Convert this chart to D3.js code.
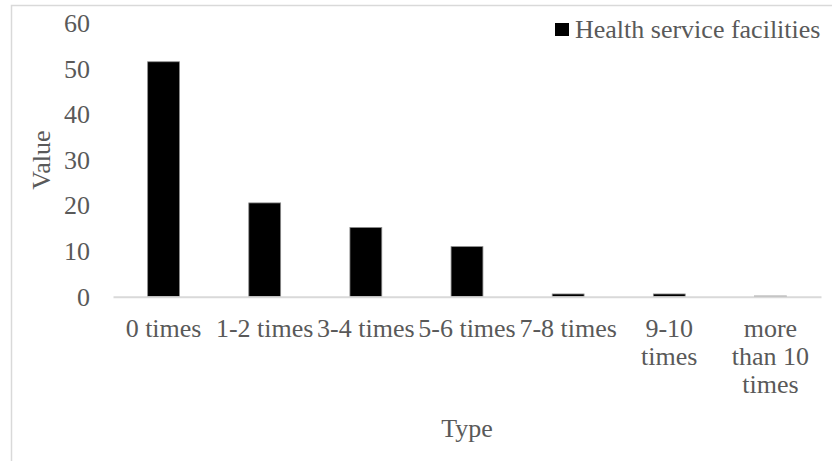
<!DOCTYPE html>
<html>
<head>
<meta charset="utf-8">
<script src="https://cdn.jsdelivr.net/npm/d3@7"></script>
<style>
  html, body { margin: 0; padding: 0; background: #fff; }
  svg { display: block; }
  text { font-family: "Liberation Serif", "Times New Roman", serif; fill: #595959; }
</style>
</head>
<body>
<svg id="chart" width="832" height="461"></svg>
<script>
const categories = ["0 times", "1-2 times", "3-4 times", "5-6 times", "7-8 times", "9-10 times", "more than 10 times"];
const values = [51.6, 20.6, 15.2, 11.0, 0.6, 0.6, 0.15];
const yTicks = [0, 10, 20, 30, 40, 50, 60];
const seriesName = "Health service facilities";
const xTitle = "Type";
const yTitle = "Value";

const W = 832, H = 461;
const margin = { left: 113, right: 11, top: 23.5, bottom: 164.3 };
const svg = d3.select("#chart");
const FS = 26;

// outer chart border
svg.append("rect")
  .attr("x", 11.5).attr("y", 5.5)
  .attr("width", 830).attr("height", 480)
  .attr("fill", "none").attr("stroke", "#d9d9d9").attr("stroke-width", 1.5);

const x = d3.scaleBand()
  .domain(categories)
  .range([margin.left, W - margin.right])
  .paddingInner(0.685).paddingOuter(0.3425);

const y = d3.scaleLinear()
  .domain([0, 60])
  .range([H - margin.bottom, margin.top]);

// y axis labels
const yAxis = d3.axisLeft(y).tickValues(yTicks).tickSize(0).tickPadding(0);
const gy = svg.append("g").attr("transform", `translate(90,0)`).call(yAxis);
gy.select(".domain").remove();
gy.selectAll("text")
  .style("font-size", FS + "px")
  .attr("fill", "#595959")
  .style("font-family", '"Liberation Serif", "Times New Roman", serif');

// bars
svg.append("g").selectAll("rect")
  .data(values)
  .join("rect")
  .attr("x", (d, i) => x(categories[i]))
  .attr("width", x.bandwidth())
  .attr("y", d => y(d))
  .attr("height", d => y(0) - y(d))
  .attr("fill", "#000")
  .attr("stroke", "#8c8c8c")
  .attr("stroke-width", 0.8);

// x axis line
const xAxis = d3.axisBottom(x).tickSize(0).tickPadding(0).tickFormat("");
const gx = svg.append("g").attr("transform", `translate(0,${y(0)})`).call(xAxis);
gx.select(".domain").attr("stroke", "#d9d9d9").attr("stroke-width", 2);

// category labels with wrapping
const labelG = svg.append("g");
const step = x.step();
categories.forEach((c, i) => {
  const cx = x(c) + x.bandwidth() / 2;
  const t = labelG.append("text")
    .attr("x", cx).attr("y", y(0) + 40)
    .attr("text-anchor", "middle")
    .style("font-size", FS + "px");
  const words = c.split(" ");
  let lines = [];
  let line = [];
  const probe = labelG.append("text").style("font-size", FS + "px");
  words.forEach(w => {
    const trial = line.concat([w]).join(" ");
    probe.text(trial);
    if (line.length && probe.node().getComputedTextLength() > step) {
      lines.push(line.join(" "));
      line = [w];
    } else {
      line.push(w);
    }
  });
  lines.push(line.join(" "));
  probe.remove();
  lines.forEach((ln, k) => {
    t.append("tspan").attr("x", cx).attr("dy", k === 0 ? 0 : 28).text(ln);
  });
});

// axis titles
svg.append("text")
  .attr("x", 467)
  .attr("y", 437)
  .attr("text-anchor", "middle")
  .style("font-size", FS + "px")
  .text(xTitle);

svg.append("text")
  .attr("transform", `translate(50,${(y(0) + y(60)) / 2}) rotate(-90)`)
  .attr("text-anchor", "middle")
  .style("font-size", FS + "px")
  .text(yTitle);

// legend
const lg = svg.append("g");
lg.append("rect")
  .attr("x", 555).attr("y", 23)
  .attr("width", 14).attr("height", 13)
  .attr("fill", "#000");
lg.append("text")
  .attr("x", 575).attr("y", 37.5)
  .style("font-size", FS + "px")
  .text(seriesName);
</script>
</body>
</html>
